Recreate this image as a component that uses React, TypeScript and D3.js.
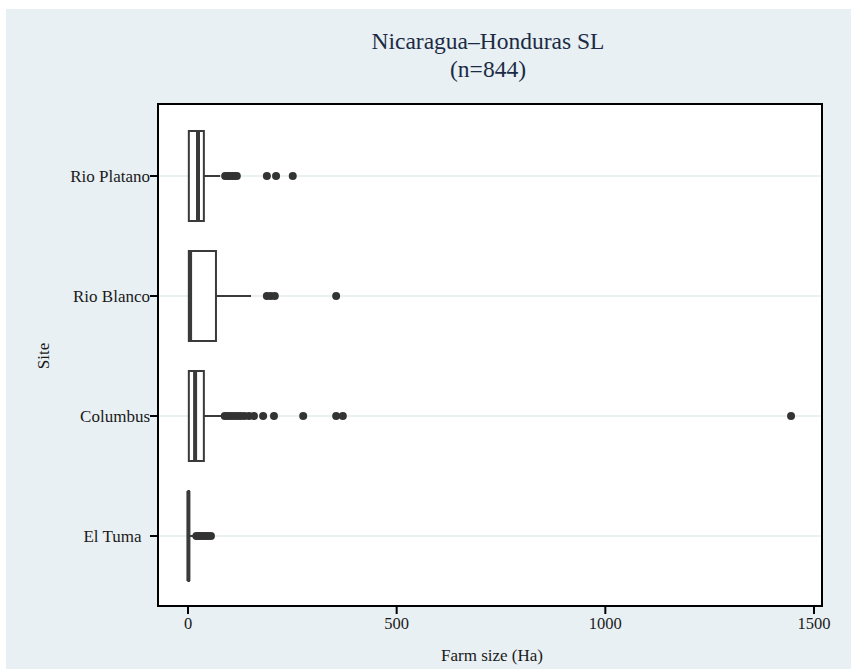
import React from 'react';
import { scaleLinear, scalePoint } from 'd3';

// summary stats per site (Farm size, Ha)
const sites = ['Rio Platano', 'Rio Blanco', 'Columbus', 'El Tuma\u00a0\u00a0'];
const q1 = [2, 2, 2, 1];
const median = [24, 5, 17, 1];
const q3 = [38, 67, 38, 2];
const whiskerHi = [77, 151, 84, 20];
const outliers: number[][] = [
  [89, 95, 100, 106, 112, 117, 189, 211, 251],
  [189, 198, 208, 355],
  [88, 95, 102, 110, 118, 126, 135, 146, 158, 180, 206, 276, 355, 371, 1445],
  [20, 25, 30, 36, 42, 48, 55],
];
const xTicks = [0, 500, 1000, 1500];

const W = 851;
const H = 669;
const plot = { left: 158, right: 822, top: 104, bottom: 606 };
const font = '"Liberation Serif", "Times New Roman", serif';

export default function App() {
  const x = scaleLinear().domain([0, 1500]).range([188, 814]);
  const y = scalePoint<string>().domain(sites).range([176, 536]);
  const boxH = 90;
  const ink = '#3a3a3a';
  const txt = '#1a1a1a';

  return (
    <div style={{ position: 'absolute', left: 0, top: 0 }}>
      <svg width={W} height={H} style={{ display: 'block' }} fontFamily={font}>
        <rect x={0} y={0} width={W} height={H} fill="#fff" />
        <rect x={6} y={9} width={W - 6} height={H - 9} fill="#e8f0f3" />
        <rect
          x={plot.left}
          y={plot.top}
          width={plot.right - plot.left}
          height={plot.bottom - plot.top}
          fill="#fff"
        />
        {/* gridlines */}
        {sites.map((s) => (
          <line
            key={'g' + s}
            x1={plot.left}
            x2={plot.right}
            y1={y(s)}
            y2={y(s)}
            stroke="#e3ecef"
            strokeWidth={1.5}
          />
        ))}
        {/* boxes */}
        {sites.map((s, i) => {
          const cy = y(s) as number;
          return (
            <g key={'b' + s}>
              <line
                x1={x(q3[i])}
                x2={x(whiskerHi[i])}
                y1={cy}
                y2={cy}
                stroke={ink}
                strokeWidth={2}
              />
              <rect
                x={x(q1[i])}
                y={cy - boxH / 2}
                width={Math.max(x(q3[i]) - x(q1[i]), 0.5)}
                height={boxH}
                fill="#fff"
                stroke={ink}
                strokeWidth={2}
              />
              <line
                x1={x(median[i])}
                x2={x(median[i])}
                y1={cy - boxH / 2}
                y2={cy + boxH / 2}
                stroke={ink}
                strokeWidth={4}
              />
              {outliers[i].map((v, j) => (
                <circle key={j} cx={x(v)} cy={cy} r={4} fill="#333" />
              ))}
            </g>
          );
        })}
        <rect
          x={plot.left}
          y={plot.top}
          width={plot.right - plot.left}
          height={plot.bottom - plot.top}
          fill="none"
          stroke="#000"
          strokeWidth={2}
        />
        {/* y axis */}
        {sites.map((s) => (
          <g key={'t' + s}>
            <line x1={plot.left - 8} x2={plot.left} y1={y(s)} y2={y(s)} stroke="#000" strokeWidth={2} />
            <text
              x={plot.left - 8}
              y={y(s)}
              dy="0.35em"
              textAnchor="end"
              fontSize={17}
              fill={txt}
            >
              {s}
            </text>
          </g>
        ))}
        {/* x axis */}
        {xTicks.map((t) => (
          <g key={'x' + t}>
            <line x1={x(t)} x2={x(t)} y1={plot.bottom} y2={plot.bottom + 8} stroke="#000" strokeWidth={2} />
            <text x={x(t)} y={plot.bottom + 23} textAnchor="middle" fontSize={16.5} fill={txt}>
              {t}
            </text>
          </g>
        ))}
        <text x={492} y={661} textAnchor="middle" fontSize={17} fill={txt}>
          Farm size (Ha)
        </text>
        <text
          transform="translate(49,356) rotate(-90)"
          textAnchor="middle"
          fontSize={17}
          fill={txt}
        >
          Site
        </text>
        <text x={488} y={49} textAnchor="middle" fontSize={23.5} fill="#1c2b45">
          Nicaragua–Honduras SL
        </text>
        <text x={488} y={77} textAnchor="middle" fontSize={23.5} fill="#1c2b45">
          (n=844)
        </text>
      </svg>
    </div>
  );
}
